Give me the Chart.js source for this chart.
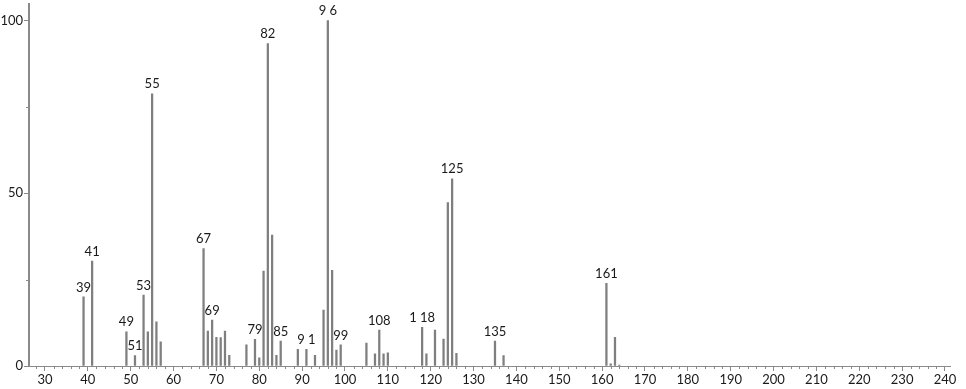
<!DOCTYPE html>
<html>
<head>
<meta charset="utf-8">
<script src="https://cdn.jsdelivr.net/npm/chart.js@4.4.0/dist/chart.umd.min.js"></script>
<style>
html,body{margin:0;padding:0;background:#fff;}
#wrap{width:966px;height:389px;position:relative;}
</style>
</head>
<body>
<div id="wrap"><canvas id="c" width="966" height="389"></canvas></div>
<script>
const mz = [39,41,49,51,53,54,55,56,57,67,68,69,70,71,72,73,77,79,80,81,82,83,84,85,89,91,93,95,96,97,98,99,105,107,108,109,110,118,119,121,123,124,125,126,135,137,161,162,163,164];
const intensity = [20.0,30.4,9.9,3.0,20.5,9.9,78.8,12.8,7.0,34.0,10.1,13.3,8.3,8.2,10.1,3.1,6.1,7.7,2.4,27.5,93.3,37.9,3.1,7.2,4.8,4.8,3.1,16.2,100,27.7,4.6,6.1,6.6,3.5,10.4,3.5,3.8,11.2,3.5,10.4,7.8,47.3,54.2,3.7,7.2,3.0,23.9,0.6,8.3,0.3];
const labeledPeaks = [39,41,49,51,53,55,67,69,79,82,85,91,96,99,108,118,125,135,161];
const peakLabelText = ["39","41","49","51","53","55","67","69","79","82","85","9 1","9 6","99","108","1 18","125","135","161"];
const xTicks = [30,40,50,60,70,80,90,100,110,120,130,140,150,160,170,180,190,200,210,220,230,240];
const xMinorTicks = [];
for (let v = 28; v <= 240; v += 2) { if (v % 10 !== 0) xMinorTicks.push(v); }
const yTicks = [0,50,100];
const yMinorTicks = [25,75];

const FONT = 'Lato, "Open Sans", sans-serif';
const AXIS = '#8a8a8a';

const points = mz.map((m,i)=>({x:m,y:intensity[i]}));

const extras = {
  id:'extras',
  afterDraw(chart){
    const ctx = chart.ctx, xs = chart.scales.x, ys = chart.scales.y;
    const y0 = ys.getPixelForValue(0);
    ctx.save();
    ctx.strokeStyle = AXIS; ctx.lineWidth = 1;
    ctx.beginPath();
    xMinorTicks.forEach(v=>{
      const px = Math.round(xs.getPixelForValue(v))+0.5;
      ctx.moveTo(px, y0); ctx.lineTo(px, y0+3);
    });
    const xl = xs.left;
    yMinorTicks.forEach(v=>{
      const py = Math.round(ys.getPixelForValue(v))+0.5;
      ctx.moveTo(xl-3, py); ctx.lineTo(xl, py);
    });
    ctx.stroke();
    ctx.fillStyle = '#1a1a1a';
    ctx.font = '13px ' + FONT;
    ctx.textAlign = 'center'; ctx.textBaseline = 'bottom';
    labeledPeaks.forEach((m,i)=>{
      const idx = mz.indexOf(m);
      const px = xs.getPixelForValue(m);
      const py = ys.getPixelForValue(intensity[idx]);
      ctx.fillText(peakLabelText[i], px, py-3);
    });
    ctx.restore();
  }
};

new Chart(document.getElementById('c'), {
  type:'bar',
  data:{datasets:[{data:points, backgroundColor:'#7f7f7f', barThickness:1.6, borderWidth:0}]},
  options:{
    responsive:false, animation:false,
    layout:{padding:{top:3,right:16,left:0,bottom:0}},
    plugins:{legend:{display:false}, tooltip:{enabled:false}},
    scales:{
      x:{
        type:'linear', min:26.27, max:241.17, offset:false,
        afterBuildTicks(s){ s.ticks = xTicks.map(v=>({value:v})); },
        afterFit(s){ s.height = 23; },
        grid:{offset:false, drawOnChartArea:false, drawTicks:true, tickLength:5, tickColor:AXIS},
        border:{display:true, color:AXIS, width:1},
        ticks:{padding:1, color:'#1a1a1a', font:{family:FONT, size:13}, maxRotation:0, autoSkip:false}
      },
      y:{
        min:0, max:104.9,
        afterBuildTicks(s){ s.ticks = yTicks.map(v=>({value:v})); },
        afterFit(s){ s.width = 29; },
        grid:{drawOnChartArea:false, drawTicks:true, tickLength:5, tickColor:AXIS},
        border:{display:true, color:AXIS, width:2},
        ticks:{padding:1, color:'#1a1a1a', font:{family:FONT, size:13, lineHeight:0.4}}
      }
    }
  },
  plugins:[extras]
});
</script>
</body>
</html>
